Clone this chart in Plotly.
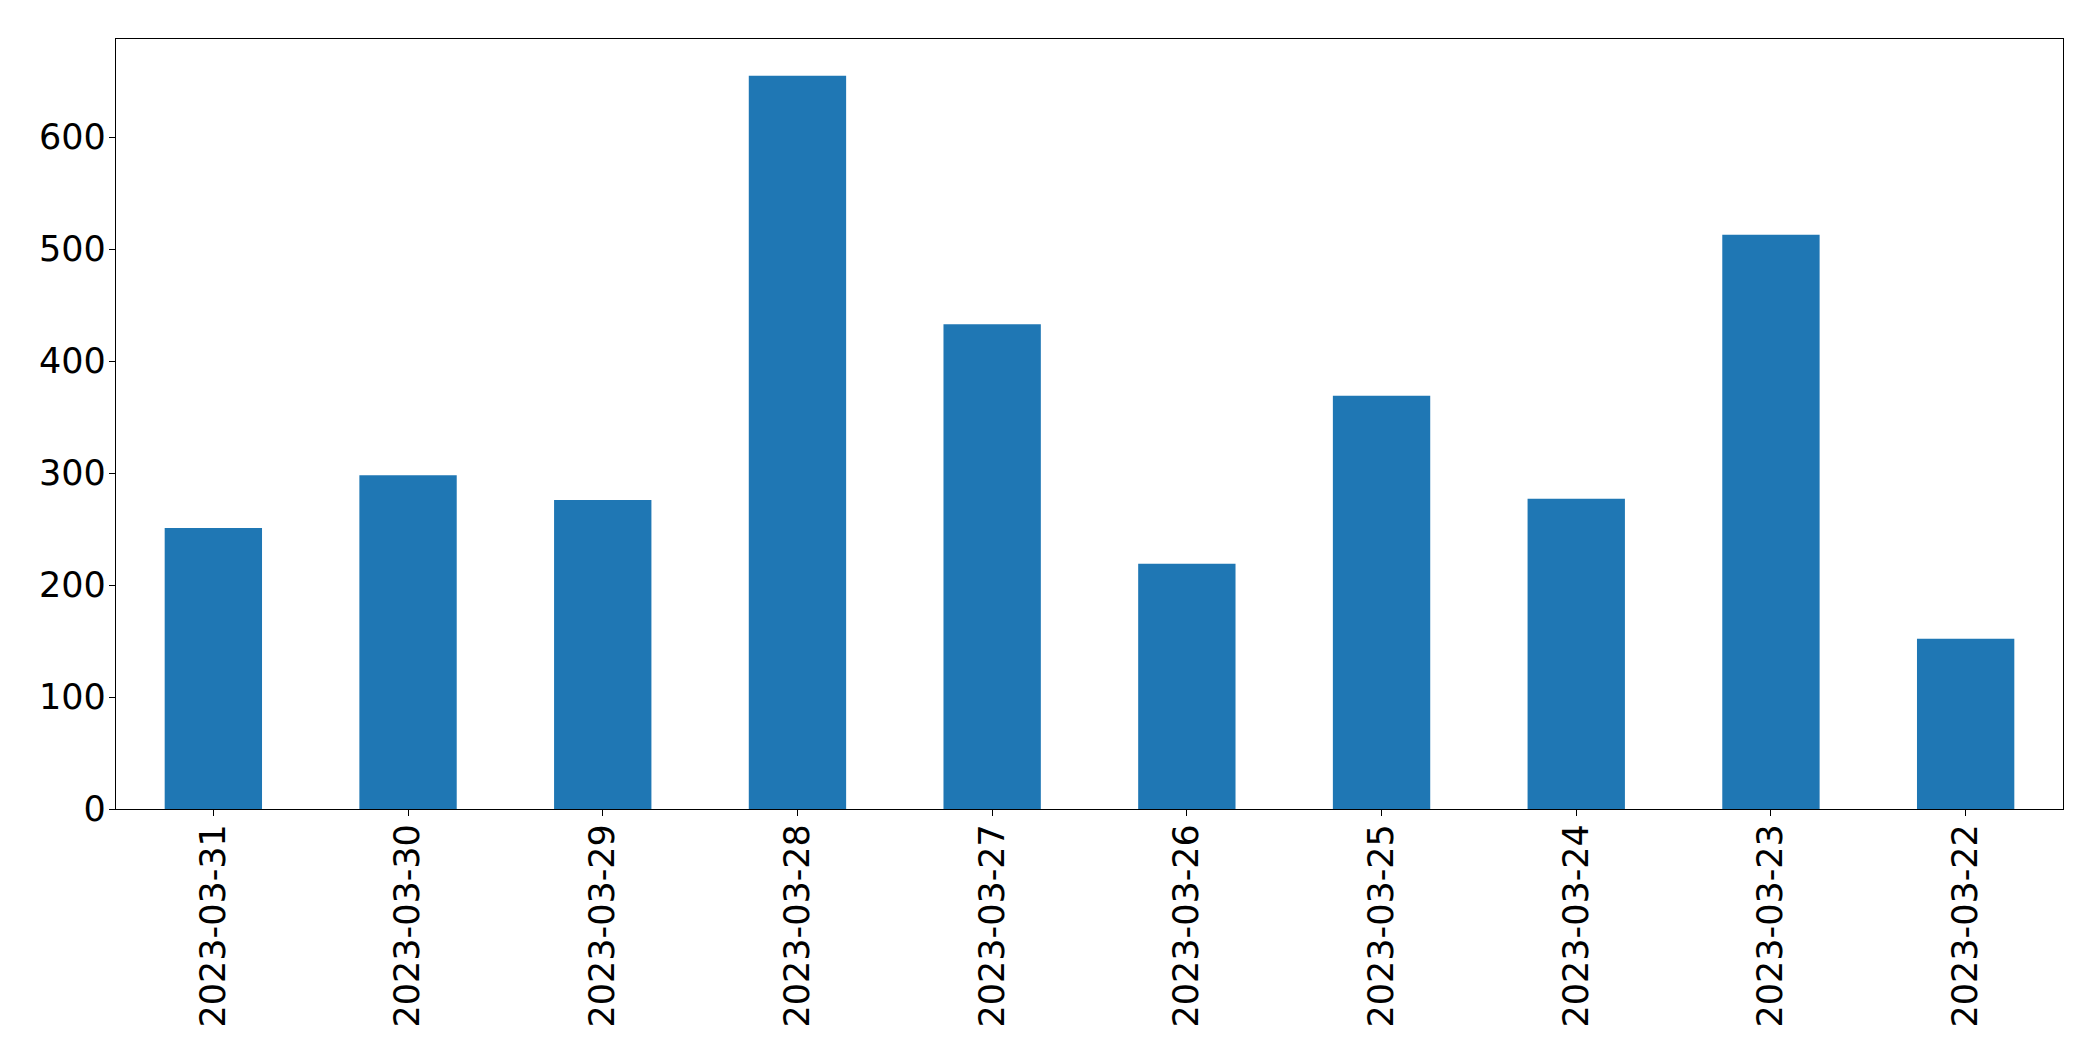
import plotly.graph_objects as go

dates = ["2023-03-31", "2023-03-30", "2023-03-29", "2023-03-28", "2023-03-27",
         "2023-03-26", "2023-03-25", "2023-03-24", "2023-03-23", "2023-03-22"]
counts = [251, 298, 276, 655, 433, 219, 369, 277, 513, 152]
y_ticks = [0, 100, 200, 300, 400, 500, 600]

x_pos = list(range(len(dates)))

fig = go.Figure(go.Bar(
    x=x_pos, y=counts, width=0.5,
    marker=dict(color="#1f77b4", line=dict(width=0)),
))

font = dict(family="DejaVu Sans", size=35, color="black")
fig.update_layout(
    width=2085, height=1053, autosize=False,
    margin=dict(l=108, r=30, t=31, b=252, pad=0),
    paper_bgcolor="white", plot_bgcolor="white",
    font=font, showlegend=False,
)
fig.update_xaxes(
    range=[-0.5, len(dates) - 0.5],
    tickmode="array", tickvals=x_pos, ticktext=dates, tickangle=-90,
    showline=True, linecolor="black", linewidth=1.3, mirror=True,
    ticks="outside", ticklen=6, tickwidth=1.3, tickcolor="black",
    ticklabelstandoff=-6,
    showgrid=False, zeroline=False, tickfont=font,
)
fig.update_yaxes(
    range=[0, max(counts) * 1.05],
    tickmode="array", tickvals=y_ticks,
    showline=True, linecolor="black", linewidth=1.3, mirror=True,
    ticks="outside", ticklen=6, tickwidth=1.3, tickcolor="black",
    ticklabelstandoff=-4,
    showgrid=False, zeroline=False, tickfont=font,
)
fig.write_html("out.html")
